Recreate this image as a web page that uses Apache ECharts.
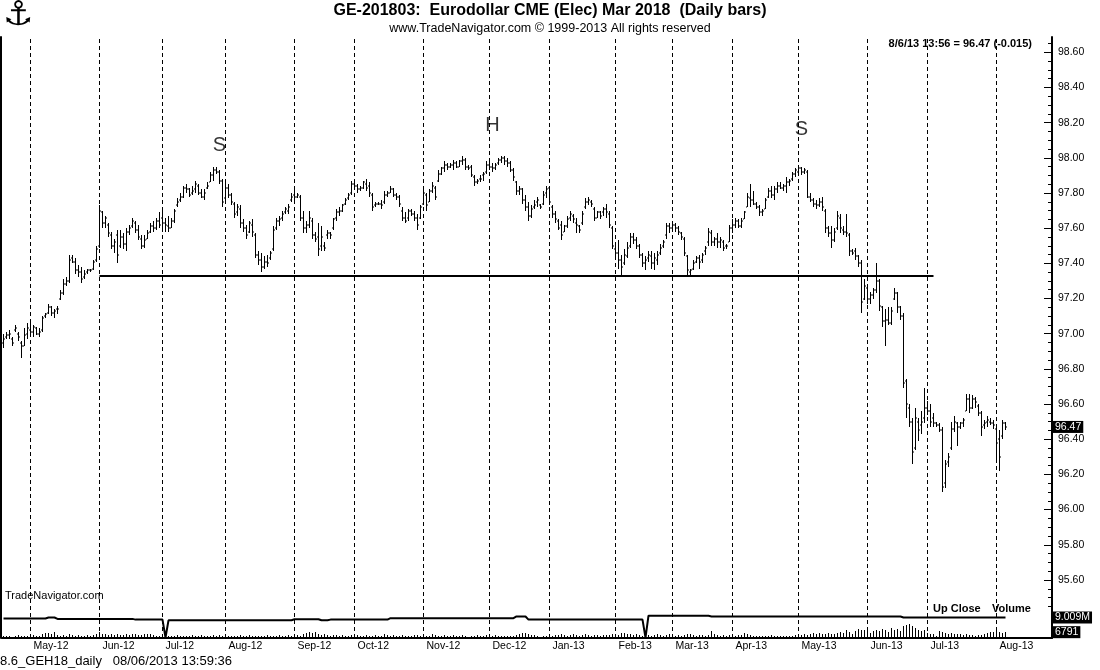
<!DOCTYPE html>
<html><head><meta charset="utf-8">
<script src="https://cdn.jsdelivr.net/npm/echarts@6/dist/echarts.min.js"></script>
<style>html,body{margin:0;padding:0;background:#fff}#c{width:1100px;height:670px}</style>
</head><body><div id="c"></div>
<script>
// ---------- calendar ----------
const startDate = '2012-04-18';
const endDate = '2013-08-06';
const closedDays = ['2012-07-04', '2012-12-25', '2013-01-01', '2013-02-18', '2013-03-29'];
const monthNames = ['Jan','Feb','Mar','Apr','May','Jun','Jul','Aug','Sep','Oct','Nov','Dec'];
const padBars = 15;

// ---------- daily bars [open, high, low, close] ----------
const apr12 = [[96.95,97.00,96.92,96.97],[96.98,97.01,96.97,96.99],[96.99,97.02,96.97,97.00],[96.97,96.98,96.93,96.95],[97.02,97.05,97.01,97.03],[97.00,97.01,96.96,96.98],[96.95,96.96,96.86,96.93],[96.93,97.03,96.93,96.99],[97.00,97.06,96.97,97.03]];
const may12 = [[97.02,97.06,96.99,97.01],[97.01,97.05,96.98,97.04],[97.03,97.04,96.99,97.00],[97.00,97.03,96.98,97.01],[97.02,97.10,97.01,97.09],[97.10,97.12,97.09,97.11],[97.12,97.17,97.11,97.15],[97.15,97.16,97.10,97.12],[97.12,97.14,97.09,97.13],[97.14,97.16,97.11,97.14],[97.20,97.25,97.19,97.23],[97.23,97.31,97.22,97.28],[97.28,97.32,97.27,97.30],[97.30,97.45,97.29,97.42],[97.43,97.45,97.40,97.41],[97.41,97.43,97.34,97.36],[97.36,97.39,97.32,97.35],[97.35,97.38,97.29,97.31],[97.32,97.36,97.31,97.34],[97.35,97.37,97.34,97.36],[97.36,97.37,97.35,97.36],[97.37,97.42,97.36,97.41],[97.42,97.50,97.41,97.48]];
const jun12 = [[97.50,97.73,97.49,97.70],[97.69,97.70,97.60,97.63],[97.63,97.67,97.60,97.66],[97.62,97.63,97.55,97.57],[97.56,97.58,97.48,97.50],[97.50,97.54,97.46,97.52],[97.56,97.59,97.40,97.45],[97.50,97.59,97.49,97.55],[97.55,97.57,97.48,97.51],[97.51,97.60,97.47,97.58],[97.58,97.62,97.56,97.60],[97.61,97.66,97.60,97.64],[97.63,97.64,97.57,97.59],[97.59,97.62,97.53,97.55],[97.54,97.56,97.48,97.50],[97.50,97.56,97.49,97.53],[97.54,97.59,97.54,97.57],[97.58,97.63,97.57,97.61],[97.61,97.64,97.58,97.60],[97.60,97.66,97.59,97.64],[97.64,97.69,97.60,97.62]];
const jul12 = [[97.66,97.70,97.60,97.63],[97.63,97.66,97.58,97.62],[97.61,97.67,97.58,97.60],[97.60,97.66,97.60,97.64],[97.64,97.71,97.63,97.70],[97.73,97.77,97.72,97.75],[97.76,97.80,97.75,97.78],[97.78,97.84,97.77,97.83],[97.83,97.85,97.80,97.82],[97.82,97.83,97.78,97.79],[97.80,97.84,97.79,97.81],[97.82,97.87,97.80,97.85],[97.84,97.85,97.79,97.80],[97.80,97.82,97.77,97.78],[97.78,97.82,97.76,97.80],[97.83,97.86,97.82,97.84],[97.86,97.92,97.86,97.90],[97.90,97.95,97.87,97.93],[97.93,97.95,97.91,97.92],[97.92,97.93,97.85,97.87],[97.87,97.88,97.72,97.75]];
const aug12 = [[97.77,97.86,97.76,97.83],[97.83,97.85,97.77,97.79],[97.79,97.80,97.73,97.75],[97.74,97.75,97.66,97.68],[97.69,97.74,97.67,97.72],[97.71,97.73,97.60,97.63],[97.63,97.65,97.58,97.60],[97.60,97.62,97.54,97.56],[97.58,97.64,97.57,97.63],[97.62,97.65,97.55,97.58],[97.56,97.57,97.43,97.45],[97.45,97.47,97.39,97.42],[97.42,97.46,97.35,97.38],[97.38,97.44,97.37,97.41],[97.41,97.45,97.38,97.40],[97.43,97.47,97.42,97.46],[97.48,97.61,97.47,97.59],[97.60,97.66,97.59,97.64],[97.64,97.67,97.61,97.65],[97.66,97.70,97.64,97.68],[97.69,97.72,97.68,97.71],[97.70,97.74,97.68,97.72],[97.76,97.80,97.75,97.78]];
const sep12 = [[97.79,97.82,97.76,97.78],[97.78,97.80,97.77,97.79],[97.78,97.79,97.64,97.66],[97.66,97.70,97.57,97.60],[97.60,97.64,97.57,97.62],[97.62,97.70,97.60,97.66],[97.64,97.66,97.54,97.56],[97.56,97.58,97.52,97.54],[97.55,97.63,97.44,97.48],[97.50,97.61,97.47,97.55],[97.50,97.52,97.47,97.49],[97.56,97.59,97.54,97.57],[97.57,97.58,97.54,97.56],[97.60,97.66,97.59,97.65],[97.66,97.71,97.64,97.69],[97.69,97.72,97.67,97.70],[97.70,97.74,97.69,97.73],[97.74,97.77,97.73,97.76],[97.77,97.80,97.76,97.79],[97.80,97.87,97.79,97.85]];
const oct12 = [[97.85,97.88,97.82,97.84],[97.84,97.85,97.80,97.82],[97.82,97.84,97.81,97.83],[97.83,97.87,97.82,97.86],[97.85,97.88,97.81,97.83],[97.84,97.86,97.78,97.80],[97.79,97.80,97.70,97.72],[97.73,97.75,97.72,97.74],[97.74,97.75,97.73,97.74],[97.74,97.76,97.71,97.73],[97.75,97.81,97.74,97.79],[97.79,97.81,97.78,97.80],[97.80,97.84,97.80,97.82],[97.82,97.83,97.78,97.79],[97.79,97.80,97.76,97.78],[97.78,97.79,97.72,97.74],[97.70,97.72,97.64,97.66],[97.66,97.69,97.63,97.64],[97.66,97.71,97.64,97.70],[97.70,97.71,97.67,97.68],[97.68,97.70,97.64,97.66],[97.66,97.68,97.59,97.62],[97.66,97.73,97.65,97.72]];
const nov12 = [[97.74,97.82,97.73,97.80],[97.79,97.80,97.70,97.73],[97.75,97.82,97.75,97.81],[97.81,97.86,97.80,97.84],[97.83,97.84,97.76,97.78],[97.87,97.93,97.86,97.91],[97.91,97.95,97.90,97.94],[97.94,97.98,97.92,97.96],[97.96,97.97,97.93,97.95],[97.95,97.97,97.94,97.96],[97.96,97.99,97.93,97.97],[97.97,97.98,97.94,97.95],[97.95,97.99,97.95,97.98],[97.98,98.01,97.96,97.99],[97.99,98.00,97.93,97.95],[97.95,97.96,97.93,97.94],[97.95,97.96,97.89,97.90],[97.89,97.90,97.84,97.86],[97.86,97.88,97.85,97.87],[97.88,97.90,97.86,97.88],[97.90,97.92,97.87,97.91],[97.92,97.98,97.91,97.96]];
const dec12 = [[97.96,97.98,97.93,97.95],[97.95,97.97,97.92,97.94],[97.94,97.97,97.93,97.96],[97.97,98.00,97.96,97.99],[97.99,98.01,97.97,98.00],[98.00,98.01,97.96,97.98],[97.98,98.00,97.95,97.97],[97.97,97.98,97.92,97.93],[97.93,97.94,97.87,97.89],[97.86,97.87,97.79,97.81],[97.81,97.84,97.79,97.82],[97.82,97.83,97.74,97.76],[97.76,97.79,97.70,97.72],[97.72,97.75,97.64,97.67],[97.67,97.73,97.66,97.71],[97.72,97.76,97.71,97.73],[97.75,97.78,97.72,97.76],[97.73,97.74,97.71,97.72],[97.74,97.81,97.73,97.79],[97.80,97.84,97.77,97.82]];
const jan13 = [[97.83,97.84,97.73,97.75],[97.72,97.73,97.66,97.68],[97.68,97.70,97.63,97.65],[97.64,97.65,97.59,97.60],[97.62,97.64,97.53,97.56],[97.58,97.62,97.58,97.61],[97.61,97.67,97.60,97.65],[97.66,97.70,97.64,97.68],[97.67,97.68,97.63,97.65],[97.63,97.66,97.57,97.62],[97.61,97.62,97.57,97.59],[97.63,97.70,97.62,97.68],[97.72,97.77,97.71,97.75],[97.75,97.78,97.73,97.76],[97.75,97.76,97.72,97.74],[97.71,97.72,97.64,97.66],[97.66,97.70,97.66,97.69],[97.69,97.70,97.65,97.67],[97.69,97.72,97.67,97.71],[97.71,97.74,97.66,97.69],[97.68,97.70,97.60,97.62],[97.60,97.61,97.48,97.50]];
const feb13 = [[97.48,97.50,97.43,97.46],[97.46,97.53,97.37,97.42],[97.42,97.45,97.32,97.38],[97.40,97.48,97.39,97.45],[97.44,97.52,97.43,97.49],[97.50,97.57,97.49,97.55],[97.55,97.57,97.51,97.53],[97.53,97.55,97.48,97.50],[97.50,97.51,97.43,97.45],[97.45,97.46,97.38,97.40],[97.40,97.44,97.36,97.42],[97.43,97.47,97.41,97.45],[97.44,97.47,97.37,97.40],[97.40,97.46,97.36,97.43],[97.42,97.47,97.39,97.45],[97.46,97.51,97.45,97.49],[97.50,97.53,97.49,97.52],[97.56,97.63,97.54,97.61],[97.61,97.63,97.57,97.60]];
const mar13 = [[97.60,97.64,97.58,97.62],[97.62,97.63,97.58,97.60],[97.60,97.61,97.56,97.58],[97.57,97.58,97.53,97.55],[97.54,97.55,97.44,97.46],[97.44,97.45,97.33,97.36],[97.35,97.37,97.33,97.36],[97.37,97.42,97.36,97.40],[97.41,97.44,97.40,97.43],[97.43,97.45,97.37,97.41],[97.42,97.46,97.40,97.45],[97.47,97.50,97.45,97.49],[97.52,97.60,97.50,97.58],[97.57,97.59,97.50,97.52],[97.52,97.55,97.50,97.54],[97.54,97.57,97.49,97.52],[97.52,97.55,97.49,97.53],[97.52,97.53,97.47,97.49],[97.50,97.51,97.48,97.50],[97.52,97.62,97.52,97.60]];
const apr13 = [[97.60,97.65,97.57,97.62],[97.62,97.66,97.60,97.64],[97.64,97.65,97.60,97.61],[97.61,97.66,97.60,97.64],[97.65,97.70,97.65,97.69],[97.72,97.80,97.72,97.78],[97.77,97.85,97.72,97.76],[97.76,97.81,97.73,97.74],[97.74,97.75,97.71,97.72],[97.72,97.73,97.67,97.69],[97.69,97.71,97.67,97.70],[97.71,97.77,97.71,97.76],[97.78,97.83,97.77,97.81],[97.81,97.84,97.77,97.79],[97.79,97.84,97.76,97.82],[97.82,97.86,97.80,97.84],[97.84,97.86,97.82,97.83],[97.83,97.85,97.81,97.84],[97.84,97.89,97.80,97.86],[97.86,97.88,97.84,97.87],[97.88,97.92,97.87,97.91],[97.91,97.94,97.89,97.93]];
const may13 = [[97.92,97.96,97.91,97.94],[97.94,97.95,97.90,97.92],[97.92,97.94,97.91,97.93],[97.92,97.93,97.77,97.78],[97.78,97.80,97.75,97.76],[97.76,97.77,97.72,97.74],[97.74,97.76,97.71,97.73],[97.73,97.77,97.72,97.75],[97.75,97.78,97.70,97.72],[97.70,97.71,97.57,97.60],[97.60,97.61,97.55,97.57],[97.57,97.61,97.49,97.53],[97.53,97.60,97.52,97.58],[97.60,97.70,97.59,97.67],[97.66,97.68,97.57,97.60],[97.59,97.61,97.56,97.58],[97.58,97.68,97.55,97.57],[97.56,97.57,97.44,97.47],[97.47,97.48,97.45,97.46],[97.47,97.49,97.42,97.44],[97.44,97.45,97.38,97.40],[97.40,97.42,97.12,97.18],[97.20,97.31,97.19,97.27]];
const jun13 = [[97.26,97.28,97.17,97.20],[97.20,97.24,97.17,97.22],[97.22,97.26,97.20,97.25],[97.25,97.40,97.23,97.30],[97.30,97.31,97.13,97.16],[97.15,97.16,97.04,97.07],[97.07,97.14,96.93,97.08],[97.08,97.15,97.05,97.06],[97.06,97.15,97.05,97.13],[97.20,97.26,97.19,97.23],[97.23,97.24,97.12,97.15],[97.15,97.16,97.08,97.10],[97.10,97.12,96.69,96.72],[96.73,96.74,96.52,96.60],[96.58,96.60,96.47,96.50],[96.50,96.52,96.26,96.33],[96.35,96.58,96.34,96.52],[96.50,96.52,96.39,96.45],[96.48,96.56,96.43,96.50],[96.52,96.69,96.49,96.58]];
const jul13 = [[96.58,96.62,96.54,96.56],[96.56,96.60,96.47,96.50],[96.52,96.55,96.47,96.49],[96.49,96.50,96.47,96.48],[96.48,96.49,96.44,96.45],[96.45,96.47,96.10,96.13],[96.15,96.28,96.12,96.26],[96.27,96.32,96.24,96.30],[96.35,96.50,96.34,96.46],[96.46,96.53,96.44,96.50],[96.49,96.50,96.36,96.47],[96.47,96.50,96.46,96.49],[96.49,96.52,96.47,96.51],[96.56,96.66,96.56,96.63],[96.63,96.66,96.55,96.58],[96.58,96.65,96.57,96.63],[96.63,96.64,96.58,96.61],[96.59,96.60,96.53,96.55],[96.55,96.56,96.42,96.47],[96.48,96.51,96.46,96.49],[96.50,96.53,96.47,96.51],[96.50,96.52,96.48,96.49],[96.49,96.51,96.46,96.48]];
const aug13 = [[96.46,96.47,96.28,96.38],[96.40,96.45,96.22,96.30],[96.42,96.51,96.40,96.49],[96.49,96.50,96.45,96.47]];

// ---------- volume, thousands of contracts ----------
const volApr12 = [2.1,1.8,2.5,1.6,2.0,3.1,2.2,1.9,2.7];
const volMay12 = [2.4,3.0,2.2,2.8,4.1,5.6,6.3,4.8,6.8,3.5,2.6,3.3,2.4,4.6,3.1,2.9,3.8,2.5,2.2,3.0,2.7,3.4,4.2];
const volJun12 = [6.9,5.2,4.1,3.6,4.8,3.9,4.4,3.2,3.7,4.5,3.8,4.9,4.2,3.5,3.9,4.6,5.1,4.3,3.1,2.6,2.2];
const volJul12 = [1.4,1.8,2.4,2.0,2.6,3.2,2.3,2.8,2.1,2.5,3.0,2.2,2.7,3.3,2.4,2.9,2.6,3.5,2.8,3.1,2.5];
const volAug12 = [3.4,2.6,2.1,2.8,2.4,3.0,2.2,2.7,3.2,2.0,2.5,2.9,2.3,2.6,3.1,2.4,2.8,2.2,3.6,2.7,2.4,3.0,2.5];
const volSep12 = [3.0,3.8,2.9,4.6,6.2,7.4,5.8,6.6,4.9,3.7,4.3,3.5,2.8,3.2,4.0,2.6,3.1,2.4,2.9,3.3];
const volOct12 = [2.6,3.1,2.4,2.8,3.6,2.2,2.7,3.3,2.5,2.9,4.1,3.4,2.6,3.8,2.3,2.8,3.2,2.5,2.1,2.7,3.0,3.9,2.6];
const volNov12 = [3.5,2.4,2.9,4.2,3.1,2.6,2.8,3.7,2.5,2.2,3.0,2.7,2.4,3.3,2.9,1.2,2.0,2.6,3.1,2.5,2.8,3.4];
const volDec12 = [2.7,2.3,3.0,2.6,2.2,2.8,2.4,2.1,2.9,3.5,5.2,6.1,5.6,4.4,3.8,3.1,2.0,1.5,2.4,2.2];
const volJan13 = [3.4,2.8,3.9,3.2,4.5,3.6,2.9,3.3,4.1,3.5,2.7,3.8,4.4,3.1,2.6,3.0,3.7,2.8,3.3,4.0,3.5,4.8];
const volFeb13 = [4.6,3.9,5.4,6.1,5.2,4.3,3.6,4.8,3.4,2.9,3.8,3.2,2.6,3.5,4.2,3.1,2.8,3.6,4.5];
const volMar13 = [3.2,2.6,3.8,2.9,3.5,4.3,5.1,3.6,2.7,3.1,3.4,2.8,3.9,8.6,4.2,3.3,2.9,3.6,2.5,3.0];
const volApr13 = [3.5,2.9,4.0,3.3,5.3,4.6,3.2,2.8,2.4,2.9,2.6,2.3,2.7,3.1,2.5,2.2,2.6,2.8,2.4,2.1,2.5,3.0];
const volMay13 = [2.6,3.2,4.8,3.6,4.1,5.5,4.7,5.9,5.2,4.4,6.3,5.0,4.6,5.8,7.2,6.0,9.8,6.6,4.1,8.4,10.6,9.2,8.8];
const volJun13 = [7.6,6.1,8.3,9.5,7.8,10.4,8.9,7.2,11.3,9.6,10.9,8.2,13.6,15.4,16.8,14.2,11.5,9.3,7.9,8.8];
const volJul13 = [6.4,5.2,4.6,2.1,7.8,6.9,5.4,4.8,6.2,5.1,4.3,4.7,3.9,4.4,3.6,3.2,2.9,3.8,3.1,4.6,5.8,6.5,7.1];
const volAug13 = [8.2,7.4,5.9,6.791];

// ---------- Up Close indicator, millions: [bar index, value] ----------
const upCloseLine = [[0,8.54],[14,8.54],[15,9.01],[17,9.01],[18,8.39],[43,8.39],[44,8.08],[53,8.08],[54,0.2],[55,7.77],[96,7.77],[97,8.23],[105,8.23],[106,7.77],[108,7.77],[109,8.08],[128,8.08],[129,8.70],[170,8.70],[171,9.47],[174,9.47],[175,8.08],[213,8.08],[214,0.2],[215,9.78],[235,9.78],[236,9.47],[299,9.47],[300,9.01],[334,9.01]];

// ---------- annotations & labels ----------
const priceLabels = [95.6,95.8,96.0,96.2,96.4,96.6,96.8,97.0,97.2,97.4,97.6,97.8,98.0,98.2,98.4,98.6];
const patternLabels = ['S','H','S'];
const patternDates = ['2012-07-30','2012-12-04','2013-05-02'];
const patternPrices = [98.073, 98.186, 98.164];
const necklineLevel = 97.33;
const necklineFrom = '2012-06-01';
const necklineTo = '2013-07-03';
const lastPrice = 96.47;
const lastUpClose = 9.009;
const lastVolume = 6791;

// ---------- build ----------
const bars = [].concat(apr12,may12,jun12,jul12,aug12,sep12,oct12,nov12,dec12,jan13,feb13,mar13,apr13,may13,jun13,jul13,aug13);
const vols = [].concat(volApr12,volMay12,volJun12,volJul12,volAug12,volSep12,volOct12,volNov12,volDec12,volJan13,volFeb13,volMar13,volApr13,volMay13,volJun13,volJul13,volAug13);

function fmt(d){const m=d.getUTCMonth()+1, dd=d.getUTCDate();return d.getUTCFullYear()+'-'+(m<10?'0':'')+m+'-'+(dd<10?'0':'')+dd;}
const dates = [];
for (let d = new Date(startDate+'T00:00:00Z'); fmt(d) <= endDate; d.setUTCDate(d.getUTCDate()+1)) {
  const wd = d.getUTCDay();
  const s = fmt(d);
  if (wd === 0 || wd === 6 || closedDays.indexOf(s) >= 0) continue;
  dates.push(s);
}
const categories = dates.slice();
for (let i = 0; i < padBars; i++) categories.push('pad' + i);

const monthStartIdx = new Set();
for (let i = 1; i < dates.length; i++) if (dates[i].slice(0,7) !== dates[i-1].slice(0,7)) monthStartIdx.add(i);
const monthStartDates = [...monthStartIdx].map(i => dates[i]);

const ohlcData = bars.map((b, i) => [i, b[0], b[1], b[2], b[3]]);
const volData = vols.map((v, i) => [i, v]);
const upCloseData = upCloseLine.map(p => [p[0], p[1]]);
const patternData = patternDates.map((d, i) => [d, patternPrices[i]]);

const minorTicks = [];
for (let v = 9545; v <= 9865; v += 5) minorTicks.push(v / 100);

const FONT = 'Liberation Sans, Arial, sans-serif';
const PMAX = 98.687, PMIN = 95.270;

function renderOHLC(params, api) {
  const k = api.value(0);
  const pO = api.coord([k, api.value(1)]);
  const pH = api.coord([k, api.value(2)]);
  const pL = api.coord([k, api.value(3)]);
  const pC = api.coord([k, api.value(4)]);
  const x = Math.round(pH[0] - 0.5);
  const top = Math.round(pH[1]), bot = Math.round(pL[1]);
  return {type: 'group', children: [
    {type: 'rect', shape: {x: x, y: top, width: 1, height: Math.max(1, bot - top)}, style: {fill: '#000'}},
    {type: 'rect', shape: {x: x - 1, y: Math.round(pO[1]) - 0.5, width: 1, height: 1}, style: {fill: '#000'}},
    {type: 'rect', shape: {x: x + 1, y: Math.round(pC[1]) - 0.5, width: 1, height: 1}, style: {fill: '#000'}}
  ]};
}
function renderVol(params, api) {
  const k = api.value(0);
  const p = api.coord([k, api.value(1)]);
  const b = api.coord([k, 0]);
  const x = Math.round(p[0] - 0.5);
  const top = Math.round(p[1]), base = Math.round(b[1]);
  return {type: 'rect', shape: {x: x, y: top, width: 1, height: Math.max(1, base - top)}, style: {fill: '#000'}};
}

const boxLabel = {color: '#fff', backgroundColor: '#000', fontSize: 10.5, fontFamily: FONT, padding: [1, 2, 0, 2], margin: 1};

const chart = echarts.init(document.getElementById('c'), null, {renderer: 'canvas'});
chart.setOption({
  animation: false,
  backgroundColor: '#fff',
  title: [
    {text: '⚓', left: 3, top: -1, padding: 0, textStyle: {fontSize: 34, fontWeight: 'bold', color: '#000', fontFamily: 'DejaVu Sans'}},
    {text: 'GE-201803:  Eurodollar CME (Elec) Mar 2018  (Daily bars)', left: 'center', top: 3, padding: 0,
      textStyle: {fontSize: 16, fontWeight: 'bold', color: '#000', fontFamily: FONT}},
    {text: 'www.TradeNavigator.com © 1999-2013 All rights reserved', left: 'center', top: 22, padding: 0,
      textStyle: {fontSize: 12.5, fontWeight: 'normal', color: '#000', fontFamily: FONT}},
    {text: '8/6/13 13:56 = 96.47 (-0.015)', right: 68, top: 38, padding: 0,
      textStyle: {fontSize: 11, fontWeight: 'bold', color: '#000', fontFamily: FONT}},
    {text: 'TradeNavigator.com', left: 5, top: 590, padding: 0,
      textStyle: {fontSize: 11, fontWeight: 'normal', color: '#000', fontFamily: FONT}},
    {text: 'Up Close', left: 933, top: 603, padding: 0,
      textStyle: {fontSize: 11, fontWeight: 'bold', color: '#000', fontFamily: FONT}},
    {text: 'Volume', left: 992, top: 603, padding: 0,
      textStyle: {fontSize: 11, fontWeight: 'bold', color: '#000', fontFamily: FONT}},
    {text: '8.6_GEH18_daily   08/06/2013 13:59:36', left: 0, top: 655, padding: 0,
      textStyle: {fontSize: 13, fontWeight: 'normal', color: '#000', fontFamily: FONT}}
  ],
  grid: {left: 2, right: 48, top: 37, bottom: 32, containLabel: false},
  xAxis: {
    type: 'category', data: categories, boundaryGap: true,
    axisLine: {show: true, lineStyle: {color: '#000', width: 2}},
    axisTick: {show: false},
    splitLine: {show: false},
    axisLabel: {
      interval: (i) => monthStartIdx.has(i),
      formatter: (v) => { if (v.startsWith('pad')) return ''; const m = +v.slice(5,7); return monthNames[m-1] + '-' + v.slice(2,4); },
      align: 'left', padding: [0, 0, 0, 3], margin: 3, fontSize: 10.5, color: '#000', fontFamily: FONT
    }
  },
  yAxis: [
    {type: 'value', position: 'right', min: PMIN, max: PMAX,
      axisLine: {show: true, lineStyle: {color: '#000', width: 2}},
      axisTick: {show: true, inside: true, length: 8, customValues: priceLabels, lineStyle: {color: '#000', width: 1}},
      axisLabel: {customValues: priceLabels, formatter: (v) => v.toFixed(2), fontSize: 10.5, color: '#000', margin: 6, fontFamily: FONT},
      splitLine: {show: false}},
    {type: 'value', position: 'right', min: PMIN, max: PMAX,
      axisLine: {show: false},
      axisTick: {show: true, inside: true, length: 4, customValues: minorTicks, lineStyle: {color: '#000', width: 1}},
      axisLabel: {show: false}, splitLine: {show: false}},
    {type: 'value', position: 'right', min: PMIN, max: PMAX,
      axisLine: {show: false}, axisTick: {show: false}, splitLine: {show: false},
      axisLabel: Object.assign({customValues: [lastPrice], formatter: (v) => v.toFixed(2)}, boxLabel)},
    {type: 'value', position: 'right', min: 0, max: 264,
      axisLine: {show: false}, axisTick: {show: false}, splitLine: {show: false},
      axisLabel: Object.assign({customValues: [lastUpClose], formatter: (v) => v.toFixed(3) + 'M'}, boxLabel)},
    {type: 'value', position: 'right', min: 0, max: 700,
      axisLine: {show: false}, axisTick: {show: false}, splitLine: {show: false},
      axisLabel: Object.assign({customValues: [lastVolume / 1000], formatter: (v) => String(Math.round(v * 1000))}, boxLabel)},
    {type: 'value', position: 'left', offset: 1, min: 0, max: 1,
      axisLine: {show: true, lineStyle: {color: '#000', width: 2}},
      axisTick: {show: false}, axisLabel: {show: false}, splitLine: {show: false}}
  ],
  series: [
    {type: 'custom', name: 'Volume', xAxisIndex: 0, yAxisIndex: 4, data: volData,
      encode: {x: 0, y: 1}, renderItem: renderVol, silent: true, z: 2},
    {type: 'line', name: 'Up Close', xAxisIndex: 0, yAxisIndex: 3, data: upCloseData, symbol: 'none',
      lineStyle: {color: '#000', width: 2}, silent: true, z: 3},
    {type: 'custom', name: 'GE', xAxisIndex: 0, yAxisIndex: 0, data: ohlcData,
      encode: {x: 0, y: [1, 2, 3, 4]}, renderItem: renderOHLC, silent: true, z: 3},
    {type: 'scatter', name: 'pattern', xAxisIndex: 0, yAxisIndex: 0, data: patternData,
      symbolSize: 1, itemStyle: {color: 'rgba(0,0,0,0)'}, silent: true, z: 4,
      label: {show: true, position: 'inside', formatter: (p) => patternLabels[p.dataIndex], fontSize: 20, color: '#000', fontFamily: FONT},
      markLine: {
        silent: true, symbol: ['none', 'none'], label: {show: false},
        lineStyle: {color: '#000', width: 1, type: [4, 3], opacity: 1},
        emphasis: {disabled: true},
        data: monthStartDates.map(d => ({xAxis: d})).concat([[
          {coord: [necklineFrom, necklineLevel], lineStyle: {type: 'solid', width: 2, color: '#000'}},
          {coord: [necklineTo, necklineLevel]}
        ]])
      }}
  ]
});
</script></body></html>
